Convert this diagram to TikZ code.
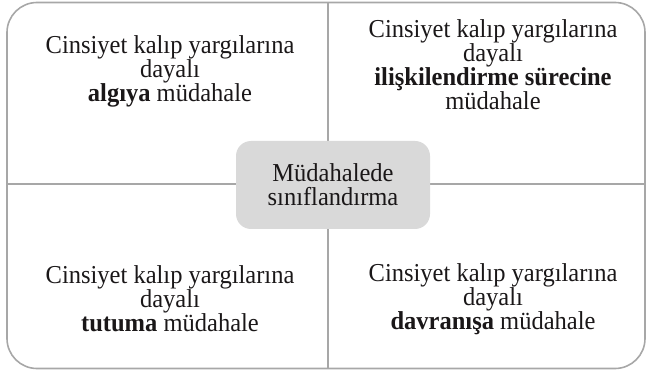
\documentclass[tikz,border=0pt]{standalone}
\usepackage{fontspec}
\setmainfont{Liberation Serif}[FakeStretch=0.95]
\definecolor{linegray}{HTML}{A7A7A7}
\definecolor{boxgray}{HTML}{D9D9D9}
\definecolor{txt}{HTML}{1A1718}
\tikzset{
  quad/.style={align=center, text=txt, font=\fontsize{25.8}{24}\selectfont, inner sep=0pt},
  frame/.style={draw=linegray, line width=1.6pt, rounded corners=30pt, minimum width=638pt, minimum height=366pt, inner sep=0pt},
  midbox/.style={fill=boxgray, rounded corners=15pt, minimum width=194pt, minimum height=88pt, align=center, text=txt, font=\fontsize{25.8}{24}\selectfont, inner sep=0pt},
  divider/.style={draw=linegray, line width=1.6pt}
}
\begin{document}
\begin{tikzpicture}[x=1pt,y=-1pt]
\useasboundingbox (0,0) rectangle (647,371);
\node[frame] (frame) at (326,185.5) {};
\coordinate (vtop) at (328,3);
\coordinate (vbot) at (328,368);
\coordinate (hleft) at (7,184);
\coordinate (hright) at (645,184);
\draw[divider] (vtop) -- (vbot);
\draw[divider] (hleft) -- (hright);
\node[midbox] (mid) at (333,185) {Müdahalede\\sınıflandırma};
\node[quad] (tl) at (170,71) {Cinsiyet kalıp yargılarına\\dayalı\\\textbf{algıya} müdahale};
\node[quad] (tr) at (493,65) {Cinsiyet kalıp yargılarına\\dayalı\\\textbf{ilişkilendirme sürecine}\\müdahale};
\node[quad] (bl) at (170,299) {Cinsiyet kalıp yargılarına\\dayalı\\\textbf{tutuma} müdahale};
\node[quad] (br) at (493,299) {Cinsiyet kalıp yargılarına\\dayalı\\\textbf{davranışa} müdahale};
\end{tikzpicture}
\end{document}
